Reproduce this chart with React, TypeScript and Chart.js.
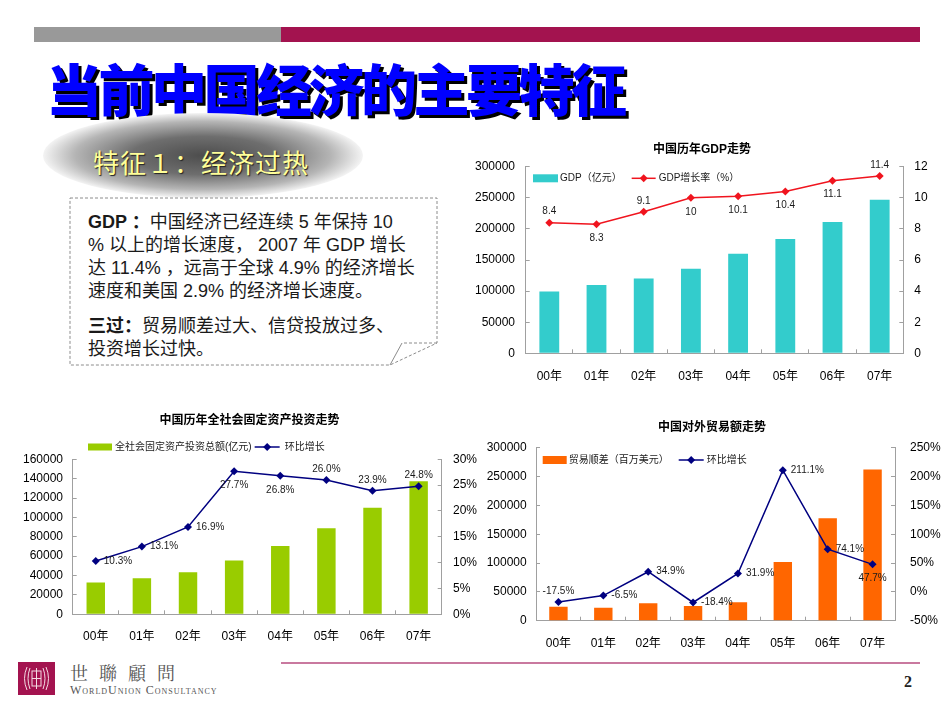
import React, { useEffect, useRef } from 'react';
import { Chart, registerables } from 'chart.js';

Chart.register(...registerables);

const FONT = '"Liberation Sans", "Noto Sans CJK SC", Arial, sans-serif';
const AXIS = '#A0A0A0';

// ---------- data ----------
const years = ['00年', '01年', '02年', '03年', '04年', '05年', '06年', '07年'];

const gdpLabel = 'GDP（亿元）';
const gdpValues = [99200, 109700, 120300, 135800, 159900, 183900, 210900, 247000];
const gdpRateLabel = 'GDP增长率（%）';
const gdpRate = [8.4, 8.3, 9.1, 10, 10.1, 10.4, 11.1, 11.4];
const gdpLeftTicks = { min: 0, max: 300000, step: 50000 };
const gdpRightTicks = { min: 0, max: 12, step: 2 };

const invLabel = '全社会固定资产投资总额(亿元)';
const invValues = [32918, 37214, 43500, 55567, 70477, 88774, 109998, 137239];
const invRateLabel = '环比增长';
const invRate = [10.3, 13.1, 16.9, 27.7, 26.8, 26.0, 23.9, 24.8];
const invLeftTicks = { min: 0, max: 160000, step: 20000 };
const invRightTicks = { min: 0, max: 30, step: 5 };

const tradeLabel = '贸易顺差（百万美元）';
const tradeValues = [24100, 22500, 30400, 25500, 32100, 102000, 177500, 262200];
const tradeRateLabel = '环比增长';
const tradeRate = [-17.5, -6.5, 34.9, -18.4, 31.9, 211.1, 74.1, 47.7];
const tradeLeftTicks = { min: 0, max: 300000, step: 50000 };
const tradeRightTicks = { min: -50, max: 250, step: 50 };

// label placement (style)
const gdpPlaces = ['above', 'below', 'above', 'below', 'below', 'below', 'below', 'above'];
const invPlaces = ['right', 'right', 'right', 'below', 'below', 'above', 'above', 'above'];
const tradePlaces = ['above', 'right', 'right', 'right', 'right', 'right', 'right', 'below'];

// ---------- plugins ----------
function labelPlugin(dsIndex: number, places: string[], fmt: (v: number) => string) {
  return {
    id: 'pointLabels',
    afterDatasetsDraw(chart: any) {
      const meta = chart.getDatasetMeta(dsIndex);
      const data = chart.data.datasets[dsIndex].data;
      const ctx = chart.ctx;
      ctx.save();
      ctx.font = `10px ${FONT}`;
      ctx.fillStyle = '#1a1a1a';
      ctx.textBaseline = 'middle';
      meta.data.forEach((pt: any, i: number) => {
        const p = places[i];
        let x = pt.x;
        let y = pt.y;
        if (p === 'above') { ctx.textAlign = 'center'; y -= 11; }
        else if (p === 'below') { ctx.textAlign = 'center'; y += 14; }
        else { ctx.textAlign = 'left'; x += 8; }
        ctx.fillText(fmt(data[i]), x, y);
      });
      ctx.restore();
    },
  };
}

function legendPlugin(cfg: { x: number; y: number; boxW: number; boxH: number; gap1: number; gap2: number; lineW: number; gap3: number }) {
  return {
    id: 'inlineLegend',
    afterDraw(chart: any) {
      const ctx = chart.ctx;
      const bar = chart.data.datasets[0];
      const line = chart.data.datasets[1];
      ctx.save();
      ctx.font = `10px ${FONT}`;
      ctx.textBaseline = 'middle';
      ctx.textAlign = 'left';
      let x = cfg.x;
      const y = cfg.y;
      ctx.fillStyle = bar.backgroundColor;
      ctx.fillRect(x, y - cfg.boxH / 2, cfg.boxW, cfg.boxH);
      x += cfg.boxW + cfg.gap1;
      ctx.fillStyle = '#1a1a1a';
      ctx.fillText(bar.label, x, y);
      x += ctx.measureText(bar.label).width + cfg.gap2;
      ctx.strokeStyle = line.borderColor;
      ctx.lineWidth = 1.5;
      ctx.beginPath();
      ctx.moveTo(x, y);
      ctx.lineTo(x + cfg.lineW, y);
      ctx.stroke();
      const cx = x + cfg.lineW / 2;
      ctx.fillStyle = line.borderColor;
      ctx.beginPath();
      ctx.moveTo(cx, y - 4);
      ctx.lineTo(cx + 4, y);
      ctx.lineTo(cx, y + 4);
      ctx.lineTo(cx - 4, y);
      ctx.closePath();
      ctx.fill();
      x += cfg.lineW + cfg.gap3;
      ctx.fillStyle = '#1a1a1a';
      ctx.fillText(line.label, x, y);
      ctx.restore();
    },
  };
}

// ---------- axes ----------
function yAxis(position: string, t: { min: number; max: number; step: number }, width: number, pad: number, fmt: (v: number) => string) {
  return {
    position,
    min: t.min,
    max: t.max,
    afterFit: (s: any) => { s.width = width; },
    grid: { display: true, drawOnChartArea: false, drawTicks: true, tickLength: -4, color: AXIS },
    border: { display: true, color: AXIS, width: 1 },
    ticks: { stepSize: t.step, padding: pad, font: { size: 12 }, color: '#000', callback: (v: any) => fmt(Number(v)) },
  };
}

function xAxis(height: number, pad: number) {
  return {
    type: 'category',
    afterFit: (s: any) => { s.height = height; },
    grid: { display: true, drawOnChartArea: false, drawTicks: true, tickLength: -4, offset: true, color: AXIS },
    border: { display: true, color: AXIS, width: 1 },
    ticks: { padding: pad, font: { size: 12 }, color: '#000', maxRotation: 0, autoSkip: false },
  };
}

type Spec = {
  title: string;
  titlePad: { top: number; bottom: number };
  barLabel: string;
  barValues: number[];
  barColor: string;
  barPct: number;
  lineLabel: string;
  lineValues: number[];
  lineColor: string;
  left: { min: number; max: number; step: number };
  right: { min: number; max: number; step: number };
  leftW: number; leftPad: number;
  rightW: number; rightPad: number;
  rightFmt: (v: number) => string;
  xH: number; xPad: number;
  places: string[];
  labelFmt: (v: number) => string;
  legend: { x: number; y: number; boxW: number; boxH: number; gap1: number; gap2: number; lineW: number; gap3: number };
};

function buildConfig(s: Spec): any {
  return {
    type: 'bar',
    data: {
      labels: years,
      datasets: [
        {
          type: 'bar',
          label: s.barLabel,
          data: s.barValues,
          backgroundColor: s.barColor,
          borderWidth: 0,
          barPercentage: s.barPct,
          categoryPercentage: 1,
          yAxisID: 'y',
          order: 2,
        },
        {
          type: 'line',
          label: s.lineLabel,
          data: s.lineValues,
          borderColor: s.lineColor,
          backgroundColor: s.lineColor,
          borderWidth: 1.5,
          pointStyle: 'rectRot',
          pointRadius: 4,
          pointBackgroundColor: s.lineColor,
          pointBorderColor: s.lineColor,
          pointBorderWidth: 0,
          tension: 0,
          yAxisID: 'y1',
          order: 1,
        },
      ],
    },
    options: {
      responsive: false,
      animation: false,
      devicePixelRatio: 1,
      layout: { padding: 0 },
      font: { family: FONT },
      plugins: {
        legend: { display: false },
        tooltip: { enabled: false },
        title: {
          display: true,
          text: s.title,
          color: '#000',
          font: { size: 12, weight: 'bold', family: FONT, lineHeight: 1.2 },
          padding: s.titlePad,
        },
      },
      scales: {
        x: xAxis(s.xH, s.xPad),
        y: yAxis('left', s.left, s.leftW, s.leftPad, (v) => String(v)),
        y1: yAxis('right', s.right, s.rightW, s.rightPad, s.rightFmt),
      },
    },
    plugins: [labelPlugin(1, s.places, s.labelFmt), legendPlugin(s.legend)],
  };
}

const gdpSpec: Spec = {
  title: '中国历年GDP走势',
  titlePad: { top: 7.8, bottom: 9.5 },
  barLabel: gdpLabel, barValues: gdpValues, barColor: '#33CCCC', barPct: 0.42,
  lineLabel: gdpRateLabel, lineValues: gdpRate, lineColor: '#F0141E',
  left: gdpLeftTicks, right: gdpRightTicks,
  leftW: 70.7, leftPad: 14.7, rightW: 45.7, rightPad: 15,
  rightFmt: (v) => String(v),
  xH: 43.7, xPad: 20.2,
  places: gdpPlaces,
  labelFmt: (v) => String(v),
  legend: { x: 78, y: 43.3, boxW: 25, boxH: 8, gap1: 2, gap2: 10, lineW: 24, gap3: 3 },
};

const invSpec: Spec = {
  title: '中国历年全社会固定资产投资走势',
  titlePad: { top: 8.8, bottom: 31.1 },
  barLabel: invLabel, barValues: invValues, barColor: '#99CC00', barPct: 0.4,
  lineLabel: invRateLabel, lineValues: invRate, lineColor: '#000080',
  left: invLeftTicks, right: invRightTicks,
  leftW: 53.7, leftPad: 13.7, rightW: 38.3, rightPad: 15.3,
  rightFmt: (v) => v + '%',
  xH: 40.7, xPad: 19.2,
  places: invPlaces,
  labelFmt: (v) => v.toFixed(1) + '%',
  legend: { x: 69, y: 42, boxW: 24, boxH: 7, gap1: 3, gap2: 3, lineW: 25, gap3: 5 },
};

const tradeSpec: Spec = {
  title: '中国对外贸易额走势',
  titlePad: { top: 15.8, bottom: 12.5 },
  barLabel: tradeLabel, barValues: tradeValues, barColor: '#FF6600', barPct: 0.41,
  lineLabel: tradeRateLabel, lineValues: tradeRate, lineColor: '#000080',
  left: tradeLeftTicks, right: tradeRightTicks,
  leftW: 60, leftPad: 13.3, rightW: 53, rightPad: 19,
  rightFmt: (v) => v + '%',
  xH: 42.3, xPad: 20.1,
  places: tradePlaces,
  labelFmt: (v) => v.toFixed(1) + '%',
  legend: { x: 66.7, y: 55, boxW: 24, boxH: 8, gap1: 2, gap2: 10, lineW: 25, gap3: 3 },
};

function ChartBox(props: { left: number; top: number; width: number; height: number; spec: Spec }) {
  const ref = useRef<HTMLCanvasElement>(null);
  useEffect(() => {
    const chart = new Chart(ref.current as HTMLCanvasElement, buildConfig(props.spec));
    return () => chart.destroy();
  }, []);
  return (
    <canvas
      ref={ref}
      width={props.width}
      height={props.height}
      style={{ position: 'absolute', left: props.left, top: props.top, width: props.width, height: props.height }}
    />
  );
}

function Logo() {
  return (
    <svg width={37} height={33} style={{ position: 'absolute', left: 18, top: 662 }}>
      <rect x={0} y={0} width={37} height={33} fill="#A3134F" />
      <g fill="none" stroke="#F4DCE4" strokeWidth={1}>
        <path d="M9,5 Q4,16.5 9,28" />
        <path d="M12,6 Q8,16.5 12,27" />
        <path d="M28,5 Q33,16.5 28,28" />
        <path d="M25,6 Q29,16.5 25,27" />
        <rect x={14} y={9} width={9} height={15} />
        <line x1={18.5} y1={6} x2={18.5} y2={27} />
        <line x1={14} y1={16.5} x2={23} y2={16.5} />
      </g>
    </svg>
  );
}

export default function App() {
  return (
    <div
      style={{
        position: 'absolute',
        left: 0,
        top: 0,
        width: 950,
        height: 713,
        background: '#fff',
        overflow: 'hidden',
        fontFamily: FONT,
      }}
    >
      {/* top bars */}
      <div style={{ position: 'absolute', left: 34, top: 27, width: 247, height: 15, background: '#999999' }} />
      <div style={{ position: 'absolute', left: 281, top: 27, width: 639, height: 15, background: '#A3134F' }} />

      {/* main title */}
      <div
        style={{
          position: 'absolute',
          left: 46,
          top: 59,
          fontSize: 56,
          lineHeight: '56px',
          fontWeight: 900,
          letterSpacing: -3.5,
          color: '#0000FF',
          textShadow: '3px 3px 0 #000',
          whiteSpace: 'nowrap',
          fontFamily: '"Noto Sans CJK SC", sans-serif',
        }}
      >
        当前中国经济的主要特征
      </div>

      {/* ellipse */}
      <div
        style={{
          position: 'absolute',
          left: 43,
          top: 113,
          width: 320,
          height: 85,
          borderRadius: '50%',
          background: 'radial-gradient(ellipse closest-side at 50% 50%, #4d4d4d 0%, #6e6e6e 45%, #b5b5b5 80%, #f4f4f4 100%)',
        }}
      />
      <div
        style={{
          position: 'absolute',
          left: 93,
          top: 149,
          fontSize: 26,
          lineHeight: '26px',
          letterSpacing: 1,
          color: '#FFFF99',
          textShadow: '1px 1px 1px #222',
          whiteSpace: 'nowrap',
          fontFamily: '"Noto Sans CJK SC", sans-serif',
        }}
      >
        特征１：经济过热
      </div>

      {/* dashed text box */}
      <svg width={372} height={172} style={{ position: 'absolute', left: 68, top: 196 }}>
        <path d="M2,2 H369 V147 L322,169 H2 Z" fill="#fff" stroke="#8c8c8c" strokeWidth={1} strokeDasharray="3,2" />
        <path d="M369,147 L334,147" fill="none" stroke="#8c8c8c" strokeWidth={1} strokeDasharray="3,2" />
        <path d="M334,147 L322,169" fill="none" stroke="#8c8c8c" strokeWidth={1} />
      </svg>
      <div
        style={{
          position: 'absolute',
          left: 88,
          top: 210.5,
          fontSize: 18,
          lineHeight: '23px',
          color: '#1a1a1a',
          whiteSpace: 'nowrap',
        }}
      >
        <div>
          <b>GDP ：</b>中国经济已经连续 5 年保持 10
          <br />% 以上的增长速度， 2007 年 GDP 增长
          <br />达 11.4% ，远高于全球 4.9% 的经济增长
          <br />速度和美国 2.9% 的经济增长速度。
        </div>
        <div style={{ marginTop: 12 }}>
          <b>三过：</b>贸易顺差过大、信贷投放过多、
          <br />投资增长过快。
        </div>
      </div>

      {/* charts */}
      <ChartBox left={455} top={135} width={494} height={262} spec={gdpSpec} />
      <ChartBox left={19} top={405} width={461} height={250} spec={invSpec} />
      <ChartBox left={476} top={405} width={472} height={258} spec={tradeSpec} />

      {/* footer */}
      <div style={{ position: 'absolute', left: 281, top: 662, width: 639, height: 2, background: '#C9799F' }} />
      <Logo />
      <div
        style={{
          position: 'absolute',
          left: 70,
          top: 662,
          fontSize: 18,
          lineHeight: '20px',
          letterSpacing: 11,
          color: '#555',
          whiteSpace: 'nowrap',
          fontFamily: '"Noto Serif CJK TC", "Noto Sans CJK TC", serif',
        }}
      >
        世聯顧問
      </div>
      <div
        style={{
          position: 'absolute',
          left: 70,
          top: 684,
          fontSize: 12,
          lineHeight: '12px',
          letterSpacing: 1,
          color: '#555',
          whiteSpace: 'nowrap',
          fontVariant: 'small-caps',
          fontFamily: '"Liberation Serif", serif',
        }}
      >
        WorldUnion Consultancy
      </div>
      <div
        style={{
          position: 'absolute',
          left: 904,
          top: 673,
          fontSize: 16,
          lineHeight: '18px',
          fontWeight: 'bold',
          color: '#222',
          fontFamily: '"Liberation Serif", serif',
        }}
      >
        2
      </div>
    </div>
  );
}
